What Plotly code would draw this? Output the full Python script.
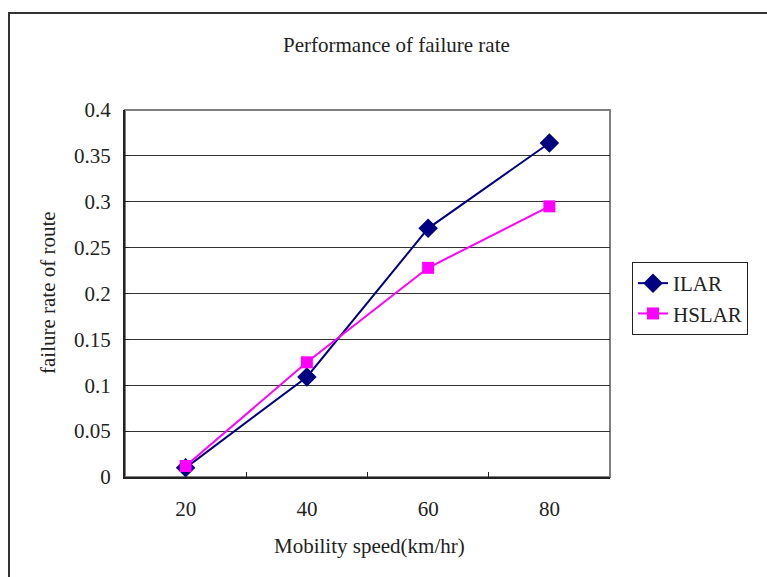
import plotly.graph_objects as go

categories = ["20", "40", "60", "80"]
ilar = [0.010, 0.109, 0.271, 0.364]
hslar = [0.012, 0.125, 0.228, 0.295]
y_ticks = [0, 0.05, 0.1, 0.15, 0.2, 0.25, 0.3, 0.35, 0.4]
y_ticklabels = ["0", "0.05", "0.1", "0.15", "0.2", "0.25", "0.3", "0.35", "0.4"]

FONT = "Liberation Serif"
W, H = 767, 577
L, R, T, B = 125, 610, 110, 477

def px(xp):
    return (xp - L) / (R - L)

def py(yp):
    return (B - yp) / (B - T)

fig = go.Figure()
fig.add_trace(go.Scatter(
    x=categories, y=ilar, name="ILAR", mode="lines+markers",
    line=dict(color="#000080", width=2),
    marker=dict(symbol="diamond", size=15, color="#000080"),
    cliponaxis=False,
))
fig.add_trace(go.Scatter(
    x=categories, y=hslar, name="HSLAR", mode="lines+markers",
    line=dict(color="#FF00FF", width=2),
    marker=dict(symbol="square", size=12, color="#FF00FF"),
    cliponaxis=False,
))

fig.update_layout(
    width=W, height=H,
    margin=dict(l=L, r=W - R, t=T, b=H - B),
    paper_bgcolor="white", plot_bgcolor="white",
    font=dict(family=FONT, size=21, color="#222222"),
    showlegend=True,
    legend=dict(
        x=px(632), y=py(262), xanchor="left", yanchor="top",
        bordercolor="#222222", borderwidth=1, bgcolor="white",
        font=dict(family=FONT, size=21, color="#222222"),
        tracegroupgap=0,
    ),
    annotations=[
        dict(text="Performance of failure rate", x=px(396), y=py(45),
             xref="paper", yref="paper", showarrow=False,
             xanchor="center", yanchor="middle",
             font=dict(family=FONT, size=21, color="#222222")),
        dict(text="failure rate of route", x=px(48), y=py(293),
             xref="paper", yref="paper", showarrow=False, textangle=-90,
             xanchor="center", yanchor="middle",
             font=dict(family=FONT, size=21, color="#222222")),
        dict(text="Mobility speed(km/hr)", x=px(369), y=py(546),
             xref="paper", yref="paper", showarrow=False,
             xanchor="center", yanchor="middle",
             font=dict(family=FONT, size=21, color="#222222")),
    ],
    shapes=[
        dict(type="rect", xref="paper", yref="paper",
             x0=0, x1=1, y0=0, y1=1,
             line=dict(color="#808080", width=2), layer="below"),
        dict(type="rect", xref="paper", yref="paper",
             x0=px(9), x1=px(820), y0=py(13), y1=py(650),
             line=dict(color="#333333", width=2), layer="below"),
    ],
)

fig.update_xaxes(
    type="category", range=[-0.5, 3.5],
    showgrid=False, showline=True, linecolor="#222222", linewidth=2,
    ticks="inside", ticklen=5, tickcolor="#222222", tickson="boundaries",
    ticklabelstandoff=12,
    tickfont=dict(family=FONT, size=21, color="#222222"),
    zeroline=False,
)
fig.update_yaxes(
    range=[0, 0.4], tickvals=y_ticks, ticktext=y_ticklabels,
    showgrid=True, gridcolor="#333333", gridwidth=1,
    showline=True, linecolor="#222222", linewidth=2,
    ticks="inside", ticklen=4, tickcolor="#222222",
    ticklabelstandoff=8,
    tickfont=dict(family=FONT, size=21, color="#222222"),
    zeroline=False,
)

fig.write_html("out.html")
